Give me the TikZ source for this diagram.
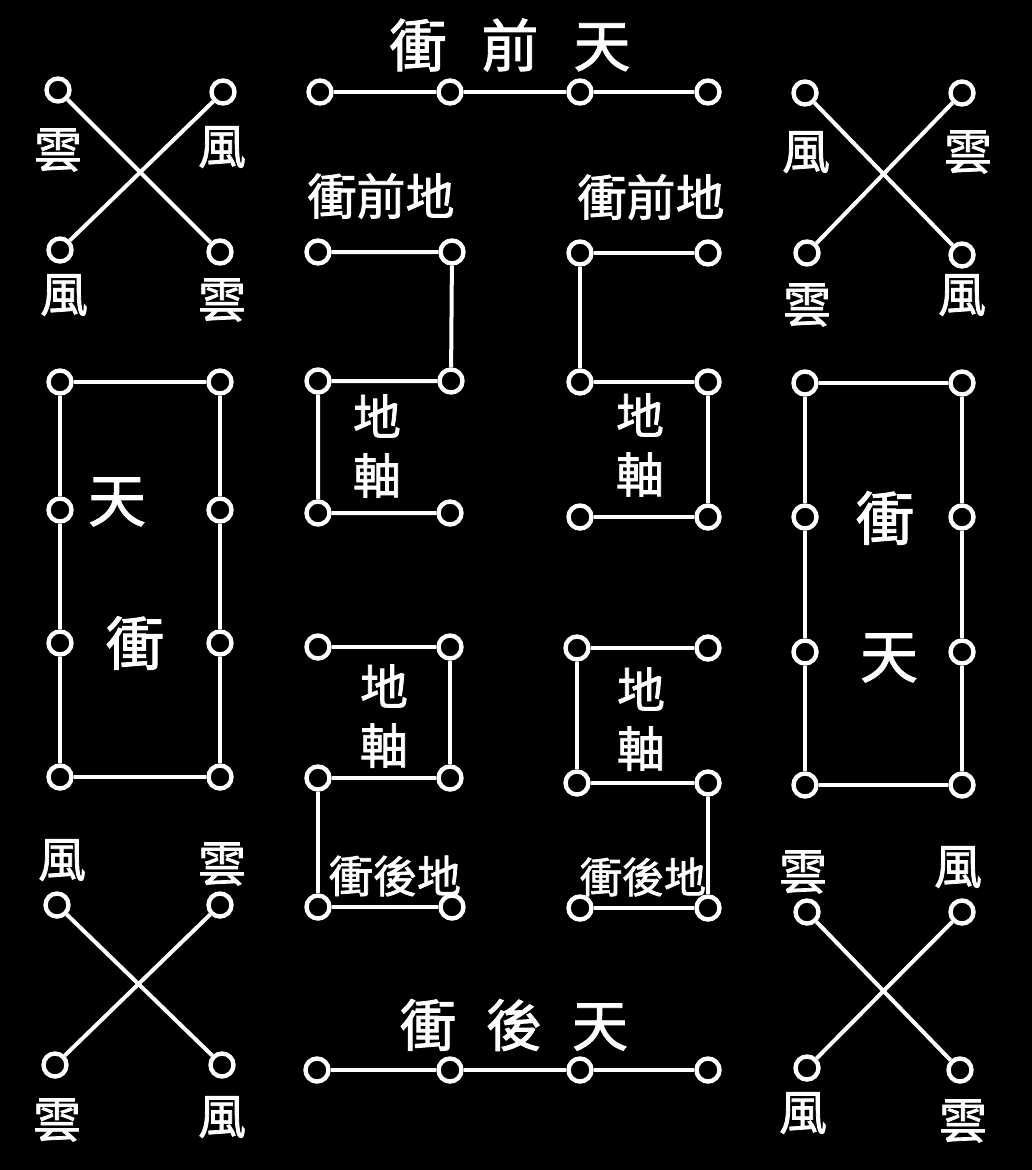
\documentclass[tikz,border=0pt]{standalone}
\usepackage{fontspec}
\newfontfamily\hanzi{Noto Sans CJK TC}[AutoFakeBold=1.6]

\def\knobsize{23pt}
\def\rodwidth{4pt}

\begin{document}
\begin{tikzpicture}[x=1pt,y=-1pt,
    knob/.style={circle,draw=white,fill=black,line width=4.4pt,minimum size=\knobsize,inner sep=0pt},
    rod/.style={draw=white,line width=\rodwidth},
    zi/.style={text=white,inner sep=0pt,font=\hanzi\bfseries\fontsize{#1}{#1}\selectfont},
    zi/.default=48,
    pair/.style={text=white,inner sep=0pt,align=center,font=\hanzi\bfseries\fontsize{48}{59}\selectfont}]
        % background
        \fill[black] (0,0) rectangle (1032,1170);

        % heaven front line
        \node[zi=57] (tftext) at (510,45) {衝\hskip35pt 前\hskip35pt 天};
        \node[knob] (tf1) at (320,92) {};
        \node[knob] (tf2) at (450,92) {};
        \node[knob] (tf3) at (580,92) {};
        \node[knob] (tf4) at (708,92) {};
        \draw[rod] (tf1) -- (tf2) -- (tf3) -- (tf4);

        % heaven rear line
        \node[zi=56] (tbtext) at (514,1025) {衝\hskip30pt 後\hskip30pt 天};
        \node[knob] (tb1) at (317,1070) {};
        \node[knob] (tb2) at (450,1070) {};
        \node[knob] (tb3) at (580,1070) {};
        \node[knob] (tb4) at (708,1070) {};
        \draw[rod] (tb1) -- (tb2) -- (tb3) -- (tb4);

        % wind-cloud cross, upper left
        \node[knob] (ul1) at (58,90) {};
        \node[knob] (ul2) at (223,92) {};
        \node[knob] (ul3) at (60,250) {};
        \node[knob] (ul4) at (220,252) {};
        \draw[rod] (ul1) -- (ul4);
        \draw[rod] (ul2) -- (ul3);
        \node[zi] (ulw1) at (58,150) {雲};
        \node[zi] (ulw2) at (222,147) {風};
        \node[zi] (ulw3) at (64,295) {風};
        \node[zi] (ulw4) at (222,300) {雲};

        % wind-cloud cross, upper right
        \node[knob] (ur1) at (805,93) {};
        \node[knob] (ur2) at (962,93) {};
        \node[knob] (ur3) at (807,253) {};
        \node[knob] (ur4) at (962,255) {};
        \draw[rod] (ur1) -- (ur4);
        \draw[rod] (ur2) -- (ur3);
        \node[zi] (urw1) at (806,152) {風};
        \node[zi] (urw2) at (968,152) {雲};
        \node[zi] (urw3) at (807,305) {雲};
        \node[zi] (urw4) at (962,295) {風};

        % wind-cloud cross, lower left
        \node[knob] (ll1) at (57,905) {};
        \node[knob] (ll2) at (220,905) {};
        \node[knob] (ll3) at (55,1065) {};
        \node[knob] (ll4) at (222,1065) {};
        \draw[rod] (ll1) -- (ll4);
        \draw[rod] (ll2) -- (ll3);
        \node[zi] (llw1) at (62,860) {風};
        \node[zi] (llw2) at (222,864) {雲};
        \node[zi] (llw3) at (57,1120) {雲};
        \node[zi] (llw4) at (222,1117) {風};

        % wind-cloud cross, lower right
        \node[knob] (lr1) at (807,912) {};
        \node[knob] (lr2) at (962,912) {};
        \node[knob] (lr3) at (807,1068) {};
        \node[knob] (lr4) at (960,1070) {};
        \draw[rod] (lr1) -- (lr4);
        \draw[rod] (lr2) -- (lr3);
        \node[zi] (lrw1) at (803,872) {雲};
        \node[zi] (lrw2) at (958,867) {風};
        \node[zi] (lrw3) at (803,1113) {風};
        \node[zi] (lrw4) at (963,1121) {雲};

        % heaven axis frames, left and right
        \foreach \y [count=\i] in {382,510,643,777} {
            \node[knob] (hl\i) at (60,\y) {};
            \node[knob] (hm\i) at (220,\y) {};
        }
        \foreach \y [count=\i] in {383,517,652,785} {
            \node[knob] (hn\i) at (805,\y) {};
            \node[knob] (hr\i) at (962,\y) {};
        }
        \draw[rod] (hm1) -- (hl1) -- (hl2) -- (hl3) -- (hl4) -- (hm4) -- (hm3) -- (hm2) -- (hm1);
        \draw[rod] (hr1) -- (hn1) -- (hn2) -- (hn3) -- (hn4) -- (hr4) -- (hr3) -- (hr2) -- (hr1);
        \node[zi=58] (hltop) at (117,502) {天};
        \node[zi=58] (hlbot) at (135,643) {衝};
        \node[zi=58] (hrtop) at (885,518) {衝};
        \node[zi=58] (hrbot) at (889,658) {天};

        % earth front, upper left
        \node[zi=49] (eftl) at (381,196) {衝前地};
        \node[knob] (a1) at (318,252) {};
        \node[knob] (a2) at (452,252) {};
        \node[knob] (a3) at (318,381) {};
        \node[knob] (a4) at (451,381) {};
        \node[knob] (a5) at (318,513) {};
        \node[knob] (a6) at (450,513) {};
        \draw[rod] (a1) -- (a2) -- (a4) -- (a3) -- (a5) -- (a6);
        \node[pair] (axa) at (377,446) {地\\軸};

        % earth front, upper right
        \node[zi=49] (eftr) at (651,197) {衝前地};
        \node[knob] (b1) at (580,253) {};
        \node[knob] (b2) at (708,253) {};
        \node[knob] (b3) at (580,382) {};
        \node[knob] (b4) at (708,382) {};
        \node[knob] (b5) at (580,517) {};
        \node[knob] (b6) at (708,517) {};
        \draw[rod] (b2) -- (b1) -- (b3) -- (b4) -- (b6) -- (b5);
        \node[pair] (axb) at (640,445) {地\\軸};

        % earth rear, lower left
        \node[knob] (c1) at (318,647) {};
        \node[knob] (c2) at (450,647) {};
        \node[knob] (c3) at (318,778) {};
        \node[knob] (c4) at (450,778) {};
        \node[knob] (c5) at (318,907) {};
        \node[knob] (c6) at (452,907) {};
        \draw[rod] (c1) -- (c2) -- (c4) -- (c3) -- (c5) -- (c6);
        \node[pair] (axc) at (384,716) {地\\軸};
        \node[zi=44] (ebtl) at (395,876) {衝後地};

        % earth rear, lower right
        \node[knob] (d1) at (577,648) {};
        \node[knob] (d2) at (708,648) {};
        \node[knob] (d3) at (577,783) {};
        \node[knob] (d4) at (708,783) {};
        \node[knob] (d5) at (580,908) {};
        \node[knob] (d6) at (708,908) {};
        \draw[rod] (d2) -- (d1) -- (d3) -- (d4) -- (d6) -- (d5);
        \node[pair] (axd) at (641,719) {地\\軸};
        \node[zi=42] (ebtr) at (643,877) {衝後地};
    \end{tikzpicture}
\end{document}
